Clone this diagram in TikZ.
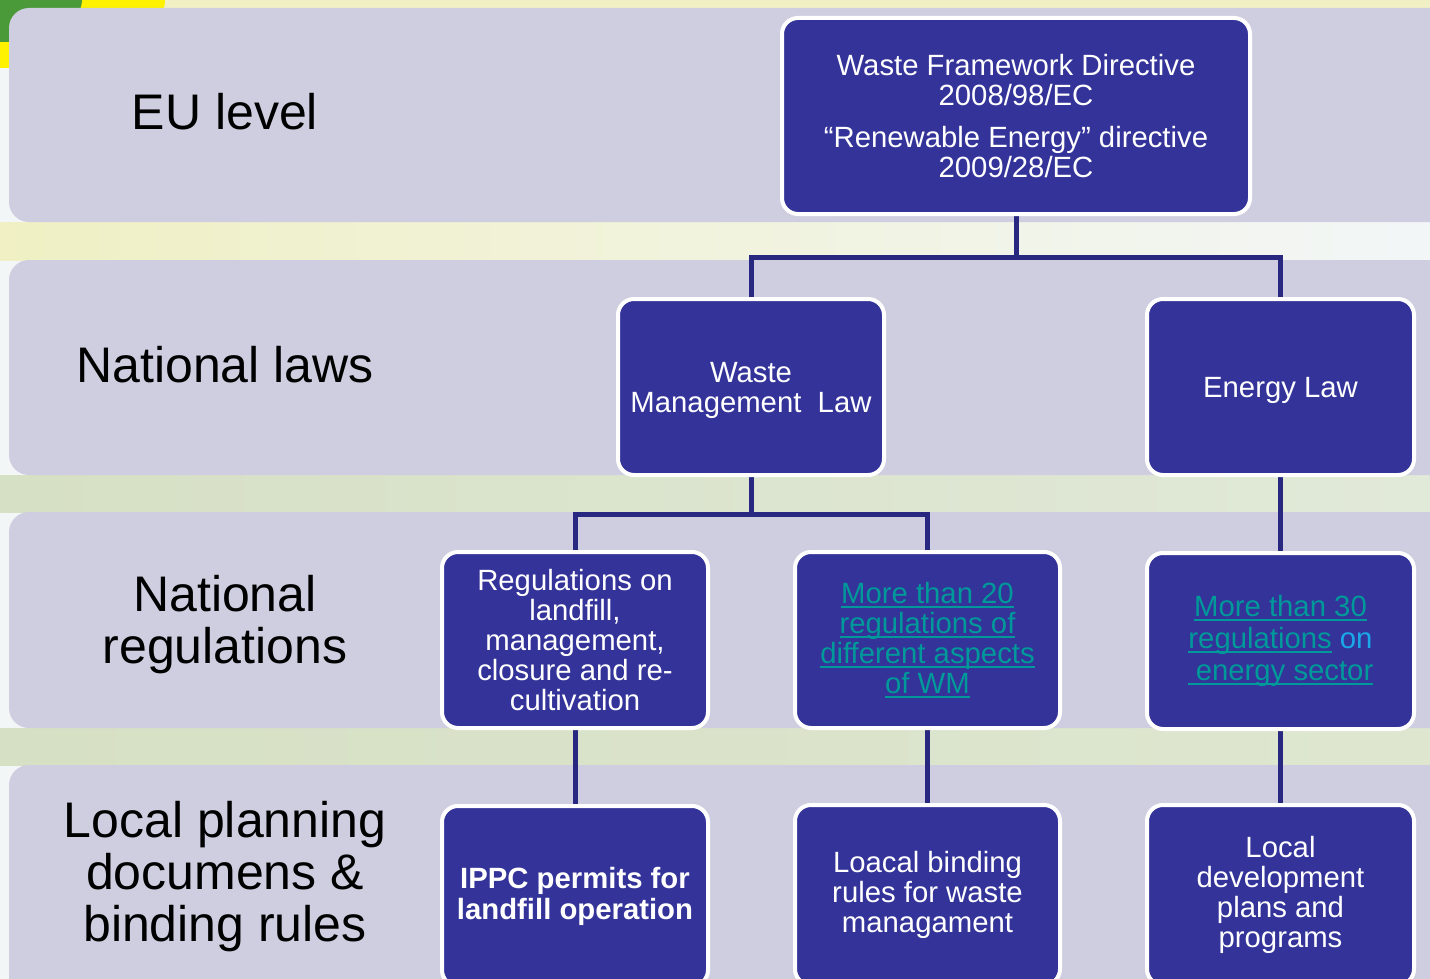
\documentclass[tikz,border=0pt]{standalone}
\usepackage{fontspec}
\setmainfont{Liberation Sans}
\usetikzlibrary{backgrounds}
\definecolor{bandgray}{RGB}{207,206,224}
\definecolor{boxblue}{RGB}{51,51,153}
\definecolor{connblue}{RGB}{40,40,128}
\definecolor{linkteal}{RGB}{0,153,153}
\definecolor{onblue}{RGB}{26,168,232}
\definecolor{paleyellow}{RGB}{240,240,196}
\definecolor{palewhite}{RGB}{242,246,247}
\definecolor{palegreen}{RGB}{214,224,196}
\definecolor{cornergreen}{RGB}{74,154,58}
\definecolor{corneryellow}{RGB}{255,242,0}
\tikzset{
  band/.style={fill=bandgray, rounded corners=20pt},
  lawbox/.style={draw=white, line width=4pt, fill=boxblue, rounded corners=16pt,
    text=white, align=center, inner sep=0pt,
    font=\fontsize{29.3}{30}\selectfont},
  level/.style={align=center, font=\fontsize{50}{52}\selectfont},
  conn/.style={draw=connblue, line width=5pt},
}
\newsavebox\linkbox
\newcommand{\hlink}[1]{\textcolor{linkteal}{\sbox\linkbox{#1}%
  \rlap{\rule[-4.5pt]{\wd\linkbox}{1.8pt}}\usebox\linkbox}}
\begin{document}
\begin{tikzpicture}[x=1pt,y=-1pt]
\useasboundingbox (0,0) rectangle (1430,979);
% levels
\node[level] (eu) at (225,112) {EU level};
\node[level] (natlaw) at (225,365) {National laws};
\node[level] (natreg) at (225,625) {National\\regulations};
\node[level] (local) at (225,877) {Local planning\\documens \&\\binding rules};
% EU
\node[lawbox, minimum width=468pt, minimum height=196pt] (wfd) at (1016,116)
  {Waste Framework Directive\\2008/98/EC\\[12pt]“Renewable Energy” directive\\2009/28/EC};
% national laws
\node[lawbox, minimum width=266pt, minimum height=176pt, text depth=0pt] (wml) at (751,387)
  {Waste\\Management\ \ Law};
\node[lawbox, minimum width=267pt, minimum height=176pt, text height=27pt] (energy) at (1280.5,387)
  {Energy Law};
% national regulations
\node[lawbox, minimum width=266pt, minimum height=176pt] (landfill) at (575,640)
  {Regulations on\\landfill,\\management,\\closure and re-\\cultivation};
\node[lawbox, minimum width=265pt, minimum height=176pt] (wmregs) at (927.5,640)
  {\hlink{More than 20}\\\hlink{regulations of}\\\hlink{different aspects}\\\hlink{of WM}};
\node[lawbox, minimum width=267pt, minimum height=176pt,
  font=\fontsize{29.3}{32}\selectfont] (enregs) at (1280.5,641)
  {\hlink{More than 30}\\\hlink{regulations} \textcolor{onblue}{on}\\\hlink{\ energy sector}};
% local
\node[lawbox, minimum width=266pt, minimum height=180pt,
  font=\fontsize{29.3}{31}\selectfont\bfseries] (ippc) at (575,896)
  {IPPC permits for\\landfill operation};
\node[lawbox, minimum width=265pt, minimum height=180pt] (binding) at (927.5,895)
  {Loacal binding\\rules for waste\\managament};
\node[lawbox, minimum width=267pt, minimum height=180pt] (localdev) at (1280.5,895)
  {Local\\development\\plans and\\programs};
\coordinate (eubus) at (1016,257);
\coordinate (wmbus) at (751,514);
\begin{scope}[on background layer]
% backdrop
\fill[palewhite] (0,0) rectangle (1430,979);
\fill[paleyellow] (160,0) rectangle (1430,10);
\shade[left color=paleyellow, right color=palewhite] (0,222) rectangle (1430,260);
\shade[left color=palegreen, right color=palegreen!60!palewhite] (0,475) rectangle (1430,512);
\shade[left color=palegreen, right color=palegreen!80!white] (0,728) rectangle (1430,765);
\fill[corneryellow] (0,0) ellipse[x radius=165, y radius=68];
\fill[cornergreen] (0,0) ellipse[x radius=82, y radius=42];
% bands
\fill[band] (9,8) rectangle (1470,222);
\fill[band] (9,260) rectangle (1470,475);
\fill[band] (9,512) rectangle (1470,728);
\fill[band] (9,765) rectangle (1470,1020);
% connectors
\draw[conn] (wfd.south) -- (eubus);
\draw[conn] (wml.north) |- (eubus) -| (energy.north);
\draw[conn] (wml.south) -- (wmbus);
\draw[conn] (landfill.north) |- (wmbus) -| (wmregs.north);
\draw[conn] (energy.south) -- (enregs.north);
\draw[conn] (landfill.south) -- (ippc.north);
\draw[conn] (wmregs.south) -- (binding.north);
\draw[conn] (enregs.south) -- (localdev.north);
\end{scope}
\end{tikzpicture}
\end{document}
